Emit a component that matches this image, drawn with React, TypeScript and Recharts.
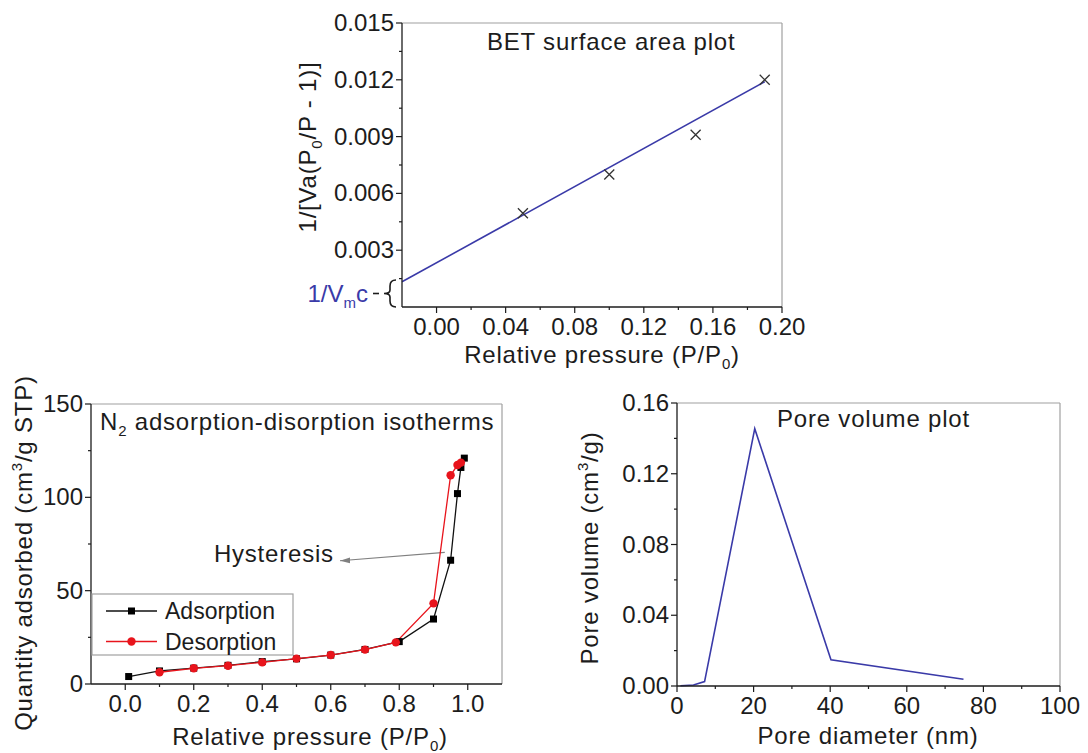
import React from 'react'
import {
  ComposedChart, Line, Scatter, XAxis, YAxis, ReferenceLine, ReferenceDot,
} from 'recharts'

const FONT = '"Liberation Sans", Arial, Helvetica, sans-serif'
const INK = '#1c1c1c'
const FRAME = '#a0a0a0'
const BLUE = '#3a3aa8'
const RED = '#e8141c'

// BET plot: measured points and the fitted straight line
const BET_P = [0.05, 0.1, 0.15, 0.19]
const BET_Y = [0.00495, 0.007, 0.0091, 0.012]
const BET_FIT_P = [-0.02, 0.19]
const BET_FIT_Y = [0.00133, 0.0119]
const BET_X_MAJOR = [0, 0.04, 0.08, 0.12, 0.16, 0.2]
const BET_X_MINOR = [0.02, 0.06, 0.1, 0.14, 0.18]
const BET_Y_MAJOR = [0.003, 0.006, 0.009, 0.012, 0.015]
const BET_Y_MINOR = [0.0015, 0.0045, 0.0075, 0.0105, 0.0135]

// N2 isotherms
const ADS_P = [0.01, 0.1, 0.2, 0.3, 0.4, 0.5, 0.6, 0.7, 0.8, 0.9, 0.95, 0.97, 0.98, 0.99]
const ADS_Q = [4, 7, 8.5, 10, 12, 13.5, 15.5, 18.5, 22.7, 34.8, 66.3, 102, 116, 121]
const DES_P = [0.1, 0.2, 0.3, 0.4, 0.5, 0.6, 0.7, 0.79, 0.9, 0.95, 0.97, 0.98]
const DES_Q = [6.3, 8.4, 9.8, 11.6, 13.6, 15.5, 18.4, 22.3, 43.2, 111.8, 117.3, 118.6]
const ISO_X_MAJOR = [0, 0.2, 0.4, 0.6, 0.8, 1.0]
const ISO_X_MINOR = [0.1, 0.3, 0.5, 0.7, 0.9]
const ISO_Y_MAJOR = [0, 50, 100, 150]
const ISO_Y_MINOR = [25, 75, 125]

// pore size distribution
const PORE_D = [0.9, 4.3, 7.2, 20.3, 40.2, 74.8]
const PORE_V = [0.0001, 0.0006, 0.0025, 0.1455, 0.0148, 0.0038]
const PORE_X_MAJOR = [0, 20, 40, 60, 80, 100]
const PORE_X_MINOR = [10, 30, 50, 70, 90]
const PORE_Y_MAJOR = [0, 0.04, 0.08, 0.12, 0.16]
const PORE_Y_MINOR = [0.02, 0.06, 0.1, 0.14]

const zip = (xs: number[], ys: number[]) => xs.map((x, i) => ({ x, y: ys[i] }))

const betPoints = zip(BET_P, BET_Y)
const betFit = zip(BET_FIT_P, BET_FIT_Y)
const adsorption = zip(ADS_P, ADS_Q)
const desorption = zip(DES_P, DES_Q)
const pore = zip(PORE_D, PORE_V)

const has = (list: number[], v: number) => list.some((m) => Math.abs(m - v) < 1e-9)

const tickText = { fontFamily: FONT, fontSize: 24, fill: INK }
const labelText = { fontFamily: FONT, fontSize: 24, fill: INK, letterSpacing: 0.8 }

// ticks are drawn by hand so minor ticks get a shorter mark and no label
function makeXTick(majors: number[], fmt: (v: number) => string) {
  return (p: any) => {
    const { x, y, payload } = p
    const major = has(majors, payload.value)
    return (
      <g>
        <line x1={x} x2={x} y1={y} y2={y + (major ? 6 : 3)} stroke={INK} strokeWidth={1.2} />
        {major && (
          <text x={x} y={y + 28} textAnchor="middle" {...tickText}>{fmt(payload.value)}</text>
        )}
      </g>
    )
  }
}

function makeYTick(majors: number[], fmt: (v: number) => string) {
  return (p: any) => {
    const { x, y, payload } = p
    const major = has(majors, payload.value)
    return (
      <g>
        <line x1={x} x2={x - (major ? 6 : 3)} y1={y} y2={y} stroke={INK} strokeWidth={1.2} />
        {major && (
          <text x={x - 8} y={y + 8} textAnchor="end" {...tickText}>{fmt(payload.value)}</text>
        )}
      </g>
    )
  }
}

const betYTick = makeYTick(BET_Y_MAJOR, (v) => v.toFixed(3))

// the zero tick of the BET plot carries the intercept brace instead of a number
function BetYTick(p: any) {
  if (p.payload.value !== 0) return betYTick(p)
  const { x, y } = p
  const bx = x - 6
  return (
    <g>
      <path
        d={`M${bx},${y - 27} q-6,0 -6,6 v4 q0,3.5 -6,3.5 q6,0 6,3.5 v4 q0,6 6,6`}
        fill="none" stroke={INK} strokeWidth={1.6}
      />
      <line x1={bx - 23} x2={bx - 17} y1={y - 13.5} y2={y - 13.5} stroke={INK} strokeWidth={1.6} />
      <text x={bx - 28} y={y - 5.5} textAnchor="end" fontFamily={FONT} fontSize={24} fill={BLUE}>
        1/V<tspan fontSize={15} dy={6}>m</tspan><tspan dy={-6}>c</tspan>
      </text>
    </g>
  )
}

function Cross(p: any) {
  const { cx, cy } = p
  const s = 5
  return (
    <path
      d={`M${cx - s},${cy - s} L${cx + s},${cy + s} M${cx - s},${cy + s} L${cx + s},${cy - s}`}
      stroke="#333" strokeWidth={1.3}
    />
  )
}

const SquareDot = (p: any) => (
  <rect key={`a${p.index}`} x={p.cx - 3.5} y={p.cy - 3.5} width={7} height={7} fill="#000" />
)
const CircleDot = (p: any) => (
  <circle key={`d${p.index}`} cx={p.cx} cy={p.cy} r={4.2} fill={RED} />
)

const axisLine = { stroke: INK, strokeWidth: 1.3 }

// gray top/right border of each plot box
function frame(xMax: number, yMax: number) {
  return [
    <ReferenceLine key="ft" y={yMax} stroke={FRAME} strokeWidth={1.2} ifOverflow="visible" />,
    <ReferenceLine key="fr" x={xMax} stroke={FRAME} strokeWidth={1.2} ifOverflow="visible" />,
  ]
}

function BetChart() {
  return (
    <ComposedChart width={540} height={380} margin={{ top: 23, right: 38, bottom: 0, left: 0 }}>
      <XAxis dataKey="x" type="number" domain={[-0.02, 0.2]} ticks={[...BET_X_MAJOR, ...BET_X_MINOR]}
        interval={0} height={73} tickSize={0} tickMargin={0} tickLine={false} axisLine={axisLine}
        tick={makeXTick(BET_X_MAJOR, (v) => v.toFixed(2))} />
      <YAxis type="number" domain={[0, 0.015]} ticks={[0, ...BET_Y_MAJOR, ...BET_Y_MINOR]}
        interval={0} width={122} tickSize={0} tickMargin={0} tickLine={false} axisLine={axisLine}
        tick={BetYTick} />
      {frame(0.2, 0.015)}
      <Line data={betFit} dataKey="y" type="linear" stroke={BLUE} strokeWidth={1.6} dot={false}
        isAnimationActive={false} />
      <Scatter data={betPoints} dataKey="y" shape={Cross} isAnimationActive={false} />
    </ComposedChart>
  )
}

function IsothermChart() {
  return (
    <ComposedChart width={520} height={373} margin={{ top: 24, right: 18, bottom: 0, left: 0 }}>
      <XAxis dataKey="x" type="number" domain={[-0.1, 1.1]} ticks={[...ISO_X_MAJOR, ...ISO_X_MINOR]}
        interval={0} height={69} tickSize={0} tickMargin={0} tickLine={false} axisLine={axisLine}
        tick={makeXTick(ISO_X_MAJOR, (v) => v.toFixed(1))} />
      <YAxis type="number" domain={[0, 150]} ticks={[...ISO_Y_MAJOR, ...ISO_Y_MINOR]}
        interval={0} width={91} tickSize={0} tickMargin={0} tickLine={false} axisLine={axisLine}
        tick={makeYTick(ISO_Y_MAJOR, (v) => String(v))} />
      {frame(1.1, 150)}
      <ReferenceLine segment={[{ x: 0.933, y: 70.5 }, { x: 0.627, y: 66 }]} stroke="#808080"
        strokeWidth={1.1} ifOverflow="visible" />
      <ReferenceDot x={0.627} y={66} ifOverflow="visible"
        shape={(p: any) => (
          <path d={`M${p.cx},${p.cy} L${p.cx + 10},${p.cy - 3.2} L${p.cx + 10},${p.cy + 2.4} Z`} fill="#808080" />
        )} />
      <ReferenceDot x={0.434} y={69.6} ifOverflow="visible"
        shape={(p: any) => (
          <text x={p.cx} y={p.cy + 8} textAnchor="middle" {...labelText}>Hysteresis</text>
        )} />
      <Line data={adsorption} dataKey="y" type="linear" stroke="#111" strokeWidth={1.3}
        dot={SquareDot} isAnimationActive={false} />
      <Line data={desorption} dataKey="y" type="linear" stroke={RED} strokeWidth={1.3}
        dot={CircleDot} isAnimationActive={false} />
    </ComposedChart>
  )
}

function PoreChart() {
  return (
    <ComposedChart width={528} height={373} margin={{ top: 23, right: 28, bottom: 0, left: 0 }}>
      <XAxis dataKey="x" type="number" domain={[0, 100]} ticks={[...PORE_X_MAJOR, ...PORE_X_MINOR]}
        interval={0} height={67} tickSize={0} tickMargin={0} tickLine={false} axisLine={axisLine}
        tick={makeXTick(PORE_X_MAJOR, (v) => String(v))} />
      <YAxis type="number" domain={[0, 0.16]} ticks={[...PORE_Y_MAJOR, ...PORE_Y_MINOR]}
        interval={0} width={117} tickSize={0} tickMargin={0} tickLine={false} axisLine={axisLine}
        tick={makeYTick(PORE_Y_MAJOR, (v) => v.toFixed(2))} />
      {frame(100, 0.16)}
      <Line data={pore} dataKey="y" type="linear" stroke={BLUE} strokeWidth={1.6} dot={false}
        isAnimationActive={false} />
    </ComposedChart>
  )
}

// titles, axis titles and the isotherm legend
function Annotations() {
  return (
    <svg width={1088} height={753} style={{ position: 'absolute', left: 0, top: 0, pointerEvents: 'none' }}>
      <text x={487} y={50} {...labelText}>BET surface area plot</text>
      <text x={602} y={363} textAnchor="middle" {...labelText}>
        Relative pressure (P/P<tspan fontSize={15} dy={6}>0</tspan><tspan dy={-6}>)</tspan>
      </text>
      <text x={316} y={147} textAnchor="middle" transform="rotate(-90 316 147)" {...labelText}>
        1/[Va(P<tspan fontSize={15} dy={6}>0</tspan><tspan dy={-6}>/P - 1)]</tspan>
      </text>

      <text x={100} y={430} {...labelText}>
        N<tspan fontSize={15} dy={6}>2</tspan><tspan dy={-6}> adsorption-disorption isotherms</tspan>
      </text>
      <text x={310} y={745} textAnchor="middle" {...labelText}>
        Relative pressure (P/P<tspan fontSize={15} dy={6}>0</tspan><tspan dy={-6}>)</tspan>
      </text>
      <text x={32} y={553} textAnchor="middle" transform="rotate(-90 32 553)" {...labelText}>
        Quantity adsorbed (cm<tspan fontSize={15} dy={-10}>3</tspan><tspan dy={10}>/g STP)</tspan>
      </text>

      <g>
        <rect x={92} y={594} width={201} height={61} fill="#fff" stroke={FRAME} strokeWidth={1.2} />
        <line x1={106} x2={157} y1={611} y2={611} stroke="#111" strokeWidth={1.3} />
        <rect x={128} y={607.5} width={7} height={7} fill="#000" />
        <text x={165} y={619} fontFamily={FONT} fontSize={23} fill={INK}>Adsorption</text>
        <line x1={106} x2={157} y1={641.5} y2={641.5} stroke={RED} strokeWidth={1.3} />
        <circle cx={131.5} cy={641.5} r={4.2} fill={RED} />
        <text x={165} y={649.5} fontFamily={FONT} fontSize={23} fill={INK}>Desorption</text>
      </g>

      <text x={777} y={427} {...labelText}>Pore volume plot</text>
      <text x={868} y={744} textAnchor="middle" {...labelText}>Pore diameter (nm)</text>
      <text x={598} y={548} textAnchor="middle" transform="rotate(-90 598 548)" {...labelText}>
        Pore volume (cm<tspan fontSize={15} dy={-10}>3</tspan><tspan dy={10}>/g)</tspan>
      </text>
    </svg>
  )
}

export default function App() {
  return (
    <div style={{ position: 'absolute', left: 0, top: 0, width: 1088, height: 753, background: '#fff', overflow: 'hidden' }}>
      <div style={{ position: 'absolute', left: 280, top: 0 }}>
        <BetChart />
      </div>
      <div style={{ position: 'absolute', left: 0, top: 380 }}>
        <IsothermChart />
      </div>
      <div style={{ position: 'absolute', left: 560, top: 380 }}>
        <PoreChart />
      </div>
      <Annotations />
    </div>
  )
}
